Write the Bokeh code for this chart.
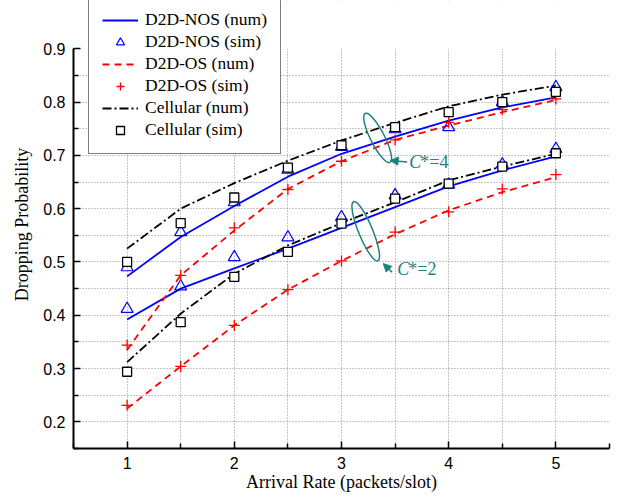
from bokeh.plotting import figure
from bokeh.embed import file_html
from bokeh.resources import INLINE
from bokeh.models import (Legend, LegendItem, FixedTicker, BoxAnnotation, Arrow,
                          NormalHead, Label)

# ---------------- data ----------------
x_rate = [1, 1.5, 2, 2.5, 3, 3.5, 4, 4.5, 5]

# C* = 4 (upper group)
nos_num_c4 = [0.473, 0.547, 0.605, 0.660, 0.703, 0.735, 0.765, 0.790, 0.809]
os_num_c4 = [0.335, 0.475, 0.559, 0.637, 0.689, 0.729, 0.756, 0.781, 0.804]
cell_num_c4 = [0.525, 0.600, 0.648, 0.690, 0.728, 0.761, 0.792, 0.814, 0.831]
nos_sim_c4 = [0.490, 0.556, 0.612, 0.673, 0.716, 0.749, 0.753, 0.800, 0.828]
os_sim_c4 = [0.344, 0.475, 0.564, 0.636, 0.689, 0.729, 0.762, 0.786, 0.806]
cell_sim_c4 = [0.500, 0.573, 0.621, 0.677, 0.719, 0.753, 0.781, 0.800, 0.819]

# C* = 2 (lower group)
nos_num_c2 = [0.392, 0.450, 0.488, 0.525, 0.564, 0.603, 0.642, 0.672, 0.698]
os_num_c2 = [0.225, 0.304, 0.381, 0.448, 0.502, 0.552, 0.597, 0.631, 0.659]
cell_num_c2 = [0.312, 0.403, 0.478, 0.531, 0.573, 0.612, 0.653, 0.679, 0.703]
nos_sim_c2 = [0.412, 0.454, 0.509, 0.546, 0.584, 0.625, 0.645, 0.683, 0.712]
os_sim_c2 = [0.231, 0.304, 0.381, 0.448, 0.502, 0.556, 0.594, 0.637, 0.664]
cell_sim_c2 = [0.294, 0.387, 0.472, 0.519, 0.572, 0.619, 0.647, 0.679, 0.704]

legend_labels = ["D2D-NOS (num)", "D2D-NOS (sim)", "D2D-OS (num)",
                 "D2D-OS (sim)", "Cellular (num)", "Cellular (sim)"]
x_major = [1, 2, 3, 4, 5]
x_minor = [0.5, 1.5, 2.5, 3.5, 4.5, 5.5]
x_grid = [1, 1.5, 2, 2.5, 3, 3.5, 4, 4.5, 5]
y_major = [0.2, 0.3, 0.4, 0.5, 0.6, 0.7, 0.8, 0.9]
y_minor = [0.15, 0.25, 0.35, 0.45, 0.55, 0.65, 0.75, 0.85]
y_grid = [0.2, 0.25, 0.3, 0.35, 0.4, 0.45, 0.5, 0.55, 0.6, 0.65, 0.7, 0.75, 0.8, 0.85]

# ---------------- styles ----------------
BLUE = "#0000ff"
RED = "#ff0000"
BLACK = "#000000"
TEAL = "#1e827d"
SERIF = "Liberation Serif"
SANS = "Liberation Sans"

p = figure(width=621, height=497, x_range=(0.5, 5.5), y_range=(0.15, 0.9906),
           output_backend="svg", toolbar_location=None,
           min_border_left=73, min_border_right=12, min_border_top=0,
           min_border_bottom=49)
p.outline_line_color = None
p.background_fill_color = "white"

# grids
p.xgrid.ticker = FixedTicker(ticks=x_grid)
p.ygrid.ticker = FixedTicker(ticks=y_grid)
for g in (p.xgrid, p.ygrid):
    g.grid_line_color = "#8c8c8c"
    g.grid_line_dash = "1 2"
    g.grid_line_width = 1

# white mask above 0.9 so vertical grid lines stop there
p.add_layout(BoxAnnotation(bottom=0.9, fill_color="white", fill_alpha=1.0,
                           line_alpha=0, level="underlay"))

# axes
p.xaxis.ticker = FixedTicker(ticks=x_major, minor_ticks=x_minor)
p.yaxis.ticker = FixedTicker(ticks=y_major, minor_ticks=y_minor)
p.yaxis.bounds = (0.15, 0.9)
for ax in (p.xaxis, p.yaxis):
    ax.axis_line_width = 2
    ax.axis_line_color = BLACK
    ax.major_tick_line_width = 1.5
    ax.minor_tick_line_width = 1.5
    ax.major_tick_in = 7
    ax.major_tick_out = 0
    ax.minor_tick_in = 5
    ax.minor_tick_out = 0
    ax.major_label_text_font = SANS
    ax.major_label_text_font_size = "16px"
    ax.major_label_text_color = BLACK
    ax.axis_label_text_font = SERIF
    ax.axis_label_text_font_size = "18px"
    ax.axis_label_text_font_style = "normal"
    ax.axis_label_text_color = BLACK
p.xaxis.axis_label = "Arrival Rate (packets/slot)"
p.yaxis.axis_label = "Dropping Probability"
p.xaxis.major_label_standoff = 8
p.xaxis.axis_label_standoff = 0
p.yaxis.major_label_standoff = 8
p.yaxis.axis_label_standoff = 8

LW = 1.8
DASH = "7 5"
DASHDOT = "9 3 2 3"

# numerical curves
r_nos = p.line(x_rate, nos_num_c4, line_color=BLUE, line_width=LW)
p.line(x_rate, nos_num_c2, line_color=BLUE, line_width=LW)
r_os = p.line(x_rate, os_num_c4, line_color=RED, line_width=LW, line_dash=DASH)
p.line(x_rate, os_num_c2, line_color=RED, line_width=LW, line_dash=DASH)
r_cell = p.line(x_rate, cell_num_c4, line_color=BLACK, line_width=LW, line_dash=DASHDOT)
p.line(x_rate, cell_num_c2, line_color=BLACK, line_width=LW, line_dash=DASHDOT)

# simulation markers
r_nos_s = p.scatter(x_rate, nos_sim_c4, marker="triangle", size=12, line_color=BLUE,
                    fill_alpha=0, line_width=1.2)
p.scatter(x_rate, nos_sim_c2, marker="triangle", size=12, line_color=BLUE,
          fill_alpha=0, line_width=1.2)
r_os_s = p.scatter(x_rate, os_sim_c4, marker="cross", size=11, line_color=RED,
                   line_width=1.3)
p.scatter(x_rate, os_sim_c2, marker="cross", size=11, line_color=RED, line_width=1.3)
r_cell_s = p.scatter(x_rate, cell_sim_c4, marker="square", size=9, line_color=BLACK,
                     fill_color="white", line_width=1.3)
p.scatter(x_rate, cell_sim_c2, marker="square", size=9, line_color=BLACK,
          fill_color="white", line_width=1.3)

# C* annotations
p.ellipse(x=[3.337], y=[0.7327], width=14, height=55, width_units="screen",
          height_units="screen", angle=0.47, fill_alpha=0, line_color=TEAL,
          line_width=1.5)
p.ellipse(x=[3.226], y=[0.5575], width=14, height=64, width_units="screen",
          height_units="screen", angle=0.39, fill_alpha=0, line_color=TEAL,
          line_width=1.5)
p.add_layout(Arrow(end=NormalHead(size=8, fill_color=TEAL, line_color=TEAL),
                   x_start=3.612, y_start=0.6875, x_end=3.454, y_end=0.6906,
                   line_color=TEAL, line_width=1.5))
p.add_layout(Arrow(end=NormalHead(size=8, fill_color=TEAL, line_color=TEAL),
                   x_start=3.472, y_start=0.4806, x_end=3.39, y_end=0.4969,
                   line_color=TEAL, line_width=1.5))

c_labels = [("4", 3.632, 0.6874), ("2", 3.52, 0.4875)]
for num, lx, ly in c_labels:
    p.add_layout(Label(x=lx, y=ly, text="C", text_font=SERIF, text_font_size="18px",
                       text_font_style="italic", text_color=TEAL,
                       text_baseline="middle", text_align="left"))
    p.add_layout(Label(x=lx, y=ly, x_offset=11, text="*=" + num, text_font=SERIF,
                       text_font_size="18px", text_color=TEAL,
                       text_baseline="middle", text_align="left"))

# legend
legend = Legend(items=[
    LegendItem(label=legend_labels[0], renderers=[r_nos]),
    LegendItem(label=legend_labels[1], renderers=[r_nos_s]),
    LegendItem(label=legend_labels[2], renderers=[r_os]),
    LegendItem(label=legend_labels[3], renderers=[r_os_s]),
    LegendItem(label=legend_labels[4], renderers=[r_cell]),
    LegendItem(label=legend_labels[5], renderers=[r_cell_s]),
], location=(15, 294))
legend.label_text_font = SERIF
legend.label_text_font_size = "17.5px"
legend.label_text_color = BLACK
legend.border_line_color = BLACK
legend.border_line_width = 1.2
legend.background_fill_color = "white"
legend.background_fill_alpha = 1.0
legend.padding = 13
legend.spacing = 1
legend.glyph_width = 36
legend.glyph_height = 20
legend.label_height = 20
legend.label_standoff = 7
legend.margin = 0
p.add_layout(legend)

open("out.html", "w").write(file_html(p, INLINE))
